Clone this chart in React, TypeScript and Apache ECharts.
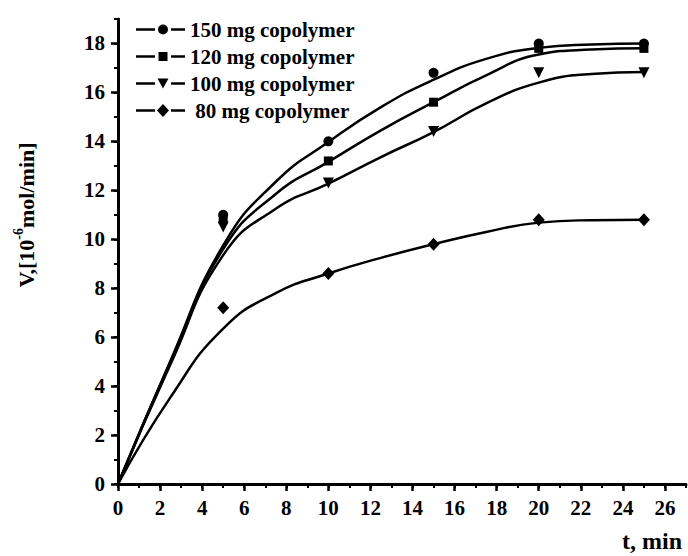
import React, { useEffect, useRef } from 'react';
import * as echarts from 'echarts';

// ---------- data ----------
const SERIES_NAMES = ['150 mg copolymer', '120 mg copolymer', '100 mg copolymer', '80 mg copolymer'];

// measured points (markers)
const T_OBS = [5, 10, 15, 20, 25];
const V150_OBS = [11.0, 14.0, 16.8, 18.0, 18.0];
const V120_OBS = [10.8, 13.2, 15.6, 17.8, 17.8];
const V100_OBS = [10.5, 12.3, 14.4, 16.8, 16.8];
const V80_OBS = [7.2, 8.6, 9.8, 10.8, 10.8];

// fitted curves
const T_FIT = [0, 2.5, 5, 7.5, 10, 12.5, 15, 17.5, 20, 22.5, 25];
const V150_FIT = [0, 5.05, 9.75, 12.35, 13.97, 15.4, 16.52, 17.37, 17.82, 17.96, 18.0];
const V120_FIT = [0, 5.0, 9.6, 11.85, 13.16, 14.45, 15.6, 16.7, 17.55, 17.75, 17.8];
const V100_FIT = [0, 4.9, 9.35, 11.25, 12.27, 13.36, 14.38, 15.55, 16.4, 16.75, 16.83];
const V80_FIT = [0, 3.55, 6.35, 7.8, 8.6, 9.24, 9.8, 10.3, 10.68, 10.78, 10.8];

const X_TICKS = [0, 2, 4, 6, 8, 10, 12, 14, 16, 18, 20, 22, 24, 26];
const Y_TICKS = [0, 2, 4, 6, 8, 10, 12, 14, 16, 18];

const X_MAX = 27;
const Y_MAX = 19;

const FONT = "'Liberation Serif', 'Times New Roman', serif";

const pair = (xs: number[], ys: number[]) => xs.map((x, i) => [x, ys[i]]);

// legend icons: line - marker - line, in a 49 x 14 box
const BOX = 'M0 0 M49 14 ';
const LINES = 'M0 5.8 L19 5.8 L19 8.2 L0 8.2 Z M35 5.8 L49 5.8 L49 8.2 L35 8.2 Z ';
const ICONS = [
  'path://' + BOX + LINES + 'M22 7 A5 5 0 1 0 32 7 A5 5 0 1 0 22 7 Z',
  'path://' + BOX + LINES + 'M22.5 2.5 L31.5 2.5 L31.5 11.5 L22.5 11.5 Z',
  'path://' + BOX + LINES + 'M21.5 2 L32.5 2 L27 12 Z',
  'path://' + BOX + LINES + 'M27 0.5 L33 7 L27 13.5 L21 7 Z',
];

const OBS = [V150_OBS, V120_OBS, V100_OBS, V80_OBS];
const FIT = [V150_FIT, V120_FIT, V100_FIT, V80_FIT];
const SYMBOLS = ['circle', 'rect', 'triangle', 'diamond'];
const SYMBOL_SIZES: any[] = [10, 9, 11, [12, 13]];
const SYMBOL_ROTATE = [0, 0, 180, 0];

export default function App() {
  const ref = useRef<HTMLDivElement>(null);

  useEffect(() => {
    if (!ref.current) return;
    const chart = echarts.init(ref.current, null, { renderer: 'svg' });

    const axisFont = { fontFamily: FONT, fontWeight: 'bold', fontSize: 21, color: '#000' };

    const series: any[] = [];
    FIT.forEach((v, i) => {
      series.push({
        name: SERIES_NAMES[i] + ' fit',
        type: 'line',
        data: pair(T_FIT, v),
        smooth: 0.5,
        showSymbol: false,
        symbol: 'none',
        lineStyle: { color: '#000', width: 2.5 },
        itemStyle: { color: '#000' },
        z: 2,
        silent: true,
      });
    });
    OBS.forEach((v, i) => {
      series.push({
        name: SERIES_NAMES[i],
        type: 'scatter',
        data: pair(T_OBS, v),
        symbol: SYMBOLS[i],
        symbolSize: SYMBOL_SIZES[i],
        symbolRotate: SYMBOL_ROTATE[i],
        itemStyle: { color: '#000', opacity: 1 },
        z: 3,
      });
    });

    chart.setOption({
      animation: false,
      backgroundColor: '#fff',
      grid: { left: 118, top: 19, right: 2, bottom: 72, containLabel: false },
      xAxis: [
        {
          type: 'value',
          min: 0,
          max: X_MAX,
          interval: 2,
          position: 'bottom',
          axisLine: { show: true, onZero: false, lineStyle: { color: '#000', width: 3 } },
          axisTick: { show: true, length: 7, lineStyle: { color: '#000', width: 2.5 }, customValues: X_TICKS },
          axisLabel: { ...axisFont, margin: 13, customValues: X_TICKS },
          splitLine: { show: false },
          minorTick: { show: false },
        },
        {
          type: 'value',
          min: 0,
          max: X_MAX,
          interval: 1,
          position: 'bottom',
          axisLine: { show: false, onZero: false },
          axisTick: { show: true, length: 4, lineStyle: { color: '#000', width: 2 } },
          axisLabel: { show: false },
          splitLine: { show: false },
        },
      ],
      yAxis: [
        {
          type: 'value',
          min: 0,
          max: Y_MAX,
          interval: 2,
          position: 'left',
          axisLine: { show: true, onZero: false, lineStyle: { color: '#000', width: 3 } },
          axisTick: { show: true, length: 7, lineStyle: { color: '#000', width: 2.5 }, customValues: Y_TICKS },
          axisLabel: { ...axisFont, margin: 13, customValues: Y_TICKS },
          splitLine: { show: false },
        },
        {
          type: 'value',
          min: 0,
          max: Y_MAX,
          interval: 1,
          position: 'left',
          axisLine: { show: false, onZero: false },
          axisTick: { show: true, length: 4, lineStyle: { color: '#000', width: 2 } },
          axisLabel: { show: false },
          splitLine: { show: false },
        },
      ],
      legend: {
        orient: 'vertical',
        left: 131,
        top: 14,
        itemWidth: 49,
        itemHeight: 14,
        itemGap: 6,
        selectedMode: false,
        formatter: (name: string) => (name.startsWith('80') ? ' ' + name : name),
        textStyle: { fontFamily: FONT, fontWeight: 'bold', fontSize: 21, color: '#000', lineHeight: 21 },
        itemStyle: { color: '#000', borderWidth: 0 },
        data: SERIES_NAMES.map((n, i) => ({ name: n, icon: ICONS[i] })),
      },
      graphic: [
        {
          type: 'text',
          x: 26,
          y: 215,
          rotation: Math.PI / 2,
          style: {
            text: 'V,[10{sup|-6}mol/min]',
            fontFamily: FONT,
            fontWeight: 'bold',
            fontSize: 22,
            fill: '#000',
            align: 'center',
            verticalAlign: 'middle',
            lineHeight: 30,
            rich: {
              sup: {
                fontFamily: FONT,
                fontWeight: 'bold',
                fontSize: 14,
                fill: '#000',
                lineHeight: 14,
                verticalAlign: 'top',
              },
            },
          },
        },
        {
          type: 'text',
          x: 622,
          y: 541,
          style: {
            text: 't, min',
            fontFamily: FONT,
            fontWeight: 'bold',
            fontSize: 24,
            fill: '#000',
            align: 'left',
            verticalAlign: 'middle',
          },
        },
      ],
      series,
    });

    return () => chart.dispose();
  }, []);

  return (
    <div
      ref={ref}
      style={{ position: 'fixed', left: 0, top: 0, width: 688, height: 556, background: '#fff' }}
    />
  );
}
